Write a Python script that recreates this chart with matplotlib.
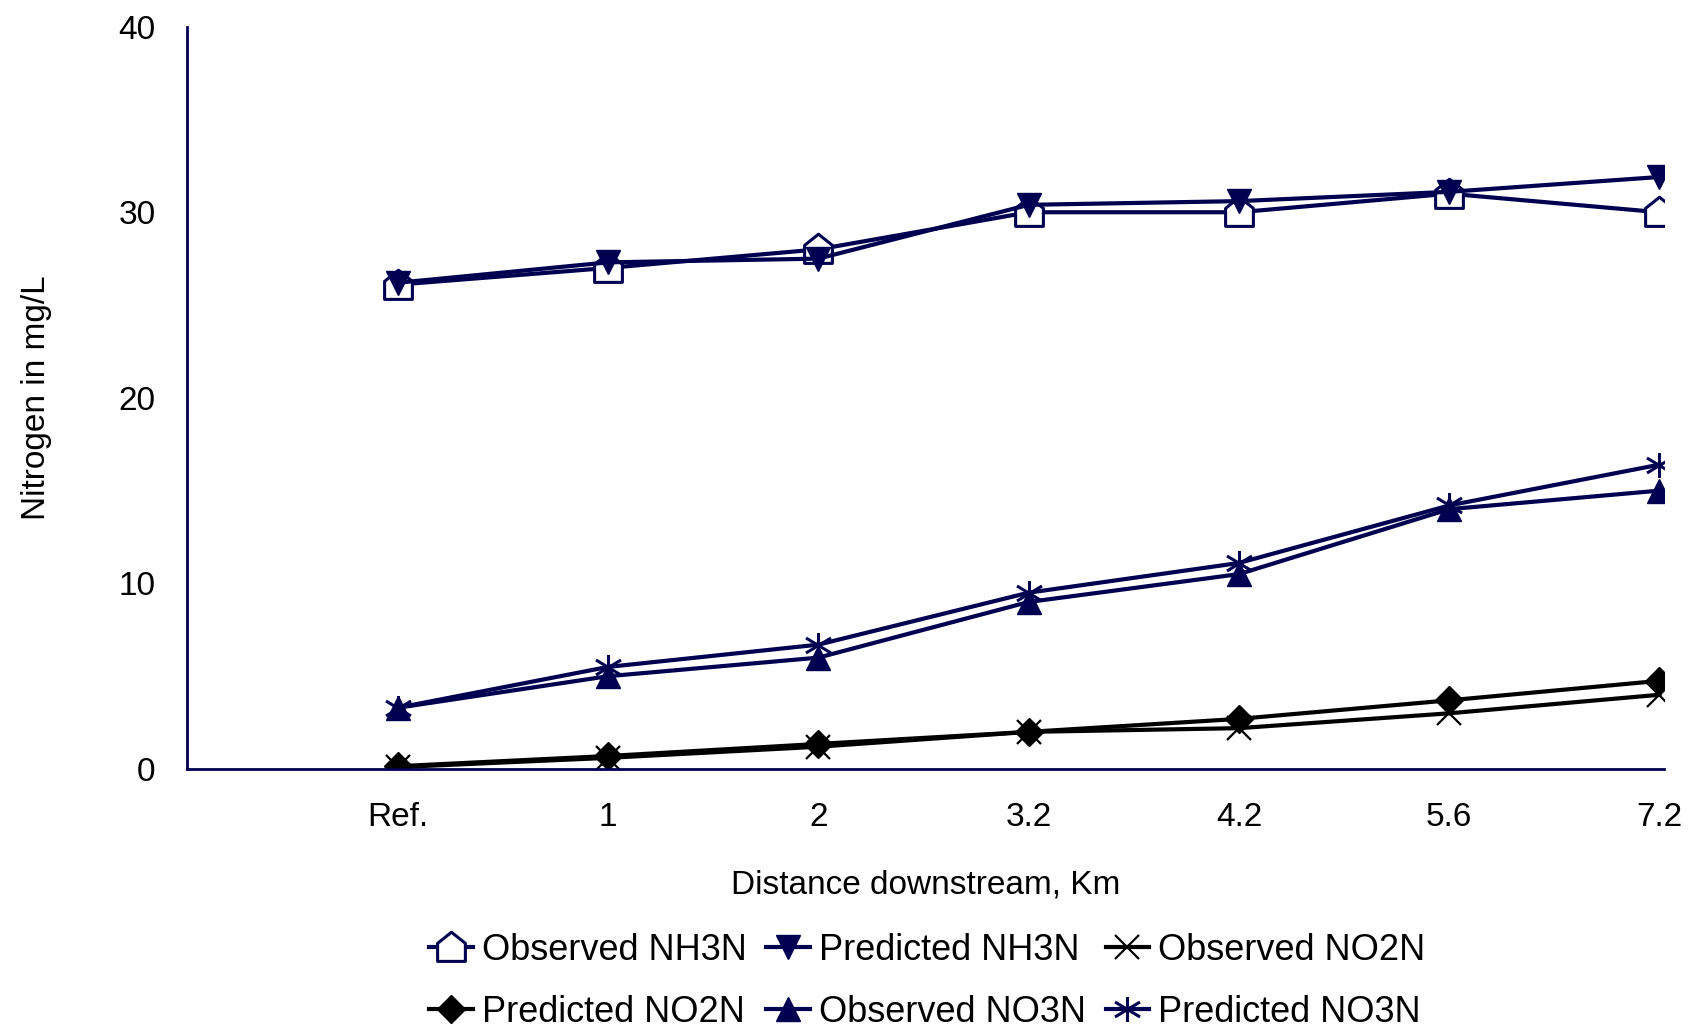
import numpy as np
import matplotlib.pyplot as plt
from matplotlib.path import Path

plt.rcParams['font.family'] = ['Liberation Sans', 'DejaVu Sans']

# distance downstream categories
distances = ['Ref.', '1', '2', '3.2', '4.2', '5.6', '7.2']

# nitrogen concentrations, mg/L
obs_nh3n = [26.1, 27.0, 28.0, 30.0, 30.0, 31.0, 30.0]
pred_nh3n = [26.2, 27.3, 27.5, 30.4, 30.6, 31.1, 31.9]
obs_no2n = [0.1, 0.6, 1.2, 2.0, 2.2, 3.0, 4.0]
pred_no2n = [0.15, 0.7, 1.35, 2.0, 2.7, 3.7, 4.75]
obs_no3n = [3.3, 5.0, 6.0, 9.0, 10.5, 14.0, 15.0]
pred_no3n = [3.3, 5.5, 6.7, 9.5, 11.1, 14.2, 16.4]

navy = '#000050'

# house-shaped marker (square with a roof)
house = Path([(-1, -1), (1, -1), (1, 0.3), (0, 1.1), (-1, 0.3), (-1, -1)],
             [Path.MOVETO, Path.LINETO, Path.LINETO, Path.LINETO, Path.LINETO, Path.CLOSEPOLY])
# asterisk marker: vertical stroke plus a cross
asterisk = Path([(0, -1), (0, 1), (-1, -0.6), (1, 0.6), (-1, 0.6), (1, -0.6)],
                [Path.MOVETO, Path.LINETO, Path.MOVETO, Path.LINETO, Path.MOVETO, Path.LINETO])

fig = plt.figure(figsize=(16.89, 10.26), dpi=100)
ax = fig.add_axes([0.111, 0.2505, 0.874, 0.7235])

x = np.arange(len(distances))
lw = 3

ax.plot(x, obs_nh3n, color=navy, lw=lw, marker=house, ms=22, mfc='white', mec=navy, mew=2.2,
        label='Observed NH3N')
ax.plot(x, pred_nh3n, color=navy, lw=lw, marker='v', ms=17, mfc=navy, mec=navy,
        label='Predicted NH3N')
ax.plot(x, obs_no2n, color='black', lw=lw, marker='x', ms=17, mew=1.6, mec='black',
        label='Observed NO2N')
ax.plot(x, pred_no2n, color='black', lw=lw, marker='D', ms=14, mfc='black', mec='black',
        label='Predicted NO2N')
ax.plot(x, obs_no3n, color=navy, lw=lw, marker='^', ms=17, mfc=navy, mec=navy,
        label='Observed NO3N')
ax.plot(x, pred_no3n, color=navy, lw=lw, marker=asterisk, ms=18, mew=2.2, mec=navy,
        label='Predicted NO3N')

ax.set_xlim(-1, 6.02)
ax.set_ylim(0, 40)
ax.set_xticks(x)
ax.set_xticklabels(distances)
ax.set_yticks([0, 10, 20, 30, 40])
ax.tick_params(axis='both', length=0, labelsize=24)
ax.tick_params(axis='x', pad=24)
ax.tick_params(axis='y', pad=23)

for side in ['top', 'right']:
    ax.spines[side].set_visible(False)
for side in ['left', 'bottom']:
    ax.spines[side].set_color(navy)
    ax.spines[side].set_linewidth(2)

ax.set_xlabel('Distance downstream, Km', fontsize=24, labelpad=26)
ax.set_ylabel('Nitrogen in mg/L', fontsize=24, labelpad=48)

# legend filled row by row: reorder for matplotlib's column-first layout
handles, labels = ax.get_legend_handles_labels()
order = [0, 3, 1, 4, 2, 5]
fig.legend([handles[i] for i in order], [labels[i] for i in order],
           loc='upper center', bbox_to_anchor=(0.549, 0.105), ncol=3, frameon=False,
           fontsize=26, handlelength=1.2, handletextpad=0.25, columnspacing=0.55,
           labelspacing=0.75, borderaxespad=0)

fig.savefig('out.png', dpi=100)
